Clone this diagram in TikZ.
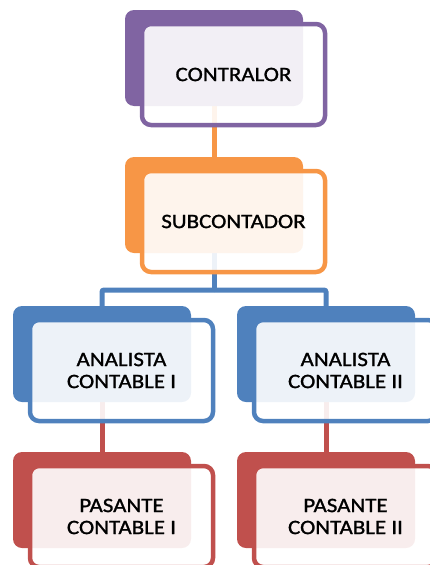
\documentclass[tikz,border=0pt]{standalone}
\usepackage{fontspec}
\setmainfont{Carlito}[FakeStretch=1.12, FakeBold=1.2]
\usetikzlibrary{backgrounds}
\definecolor{purp}{HTML}{8064A2}
\definecolor{oran}{HTML}{F79646}
\definecolor{blu}{HTML}{4F81BD}
\definecolor{rd}{HTML}{C0504D}
\begin{document}
\begin{tikzpicture}[x=1pt,y=-1pt,
  backbox/.style={rectangle, rounded corners=9pt, minimum width=178pt,
    minimum height=96pt, anchor=north west, inner sep=0pt, outer sep=0pt, fill=#1},
  frontbox/.style={rectangle, rounded corners=9pt, minimum width=183pt,
    minimum height=101pt, anchor=north west, outer sep=0pt, draw=#1,
    line width=4.5pt, fill=white, fill opacity=0.9, text opacity=1,
    align=center, font=\fontsize{20.5}{22}\selectfont},
  link/.style={draw=#1, line width=5pt}
]
\useasboundingbox (0,0) rectangle (430,565);
\clip (0,0) rectangle (430,565);

% level 1
\node[backbox=purp] (b1) at (125,10) {};
\node[frontbox=purp] (f1) at (142,24) {CONTRALOR};
% level 2
\node[backbox=oran] (b2) at (125,157) {};
\node[frontbox=oran] (f2) at (142,171) {SUBCONTADOR};
% level 3
\node[backbox=blu] (b3l) at (13,306) {};
\node[frontbox=blu] (f3l) at (30,320) {ANALISTA\\CONTABLE I};
\node[backbox=blu] (b3r) at (237,306) {};
\node[frontbox=blu] (f3r) at (254,320) {ANALISTA\\CONTABLE II};
% level 4
\node[backbox=rd] (b4l) at (13,452) {};
\node[frontbox=rd] (f4l) at (30,466) {PASANTE\\CONTABLE I};
\node[backbox=rd] (b4r) at (237,452) {};
\node[frontbox=rd] (f4r) at (254,466) {PASANTE\\CONTABLE II};

% connectors sit behind the boxes
\begin{pgfonlayer}{background}
  \draw[link=oran] (b1.south) -- (b2.north);
  \draw[link=blu] (b2.south) -- ++(0,37) coordinate (split);
  \draw[link=blu, rounded corners=2pt] (split) -| (b3l.north);
  \draw[link=blu, rounded corners=2pt] (split) -| (b3r.north);
  \draw[link=rd] (b3l.south) -- (b4l.north);
  \draw[link=rd] (b3r.south) -- (b4r.north);
\end{pgfonlayer}
\end{tikzpicture}
\end{document}
